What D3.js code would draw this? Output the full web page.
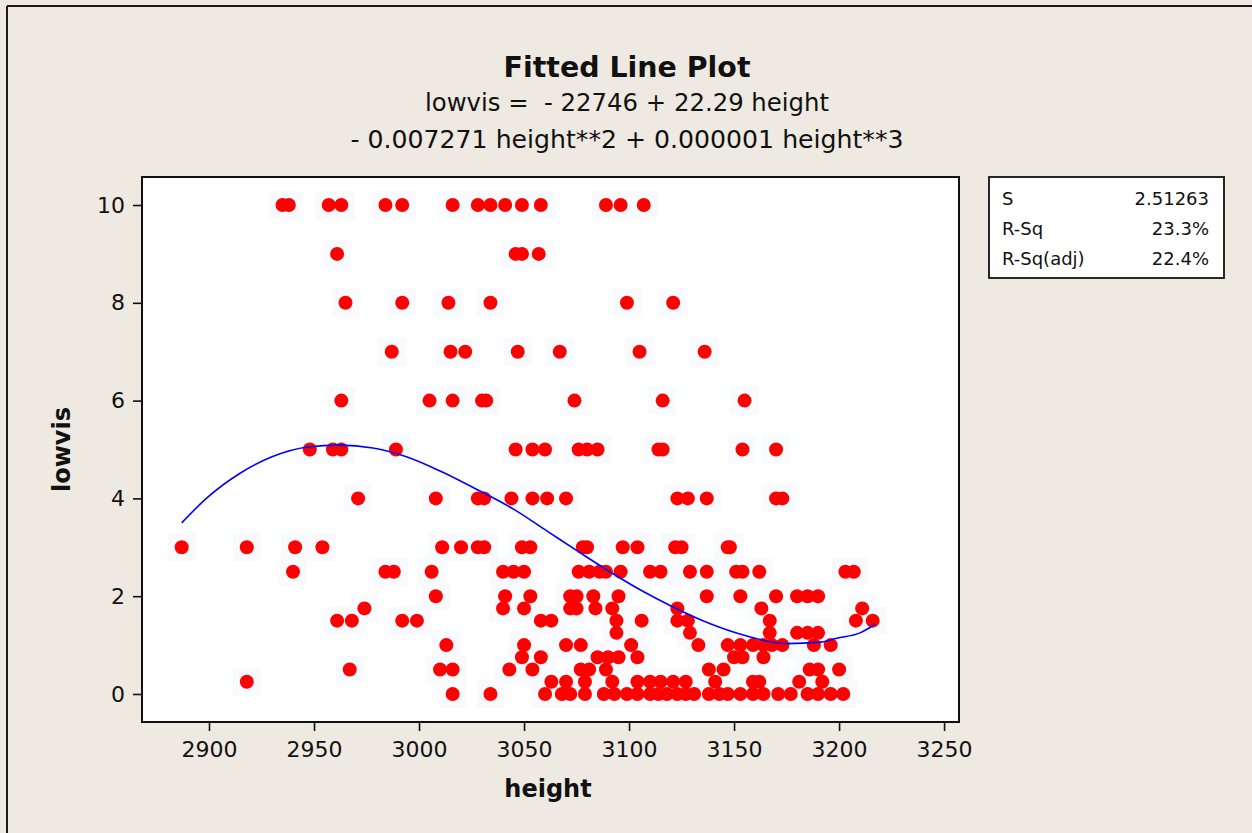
<!DOCTYPE html>
<html>
<head>
<meta charset="utf-8">
<script src="https://cdn.jsdelivr.net/npm/d3@7"></script>
<style>
  html, body { margin: 0; padding: 0; background: #eee9e1; }
  svg { display: block; }
  text { font-family: "DejaVu Sans", Verdana, sans-serif; fill: #111; }
</style>
</head>
<body>
<svg id="chart" width="1252" height="833"></svg>
<script>
// ---------- data ----------
const titleText = "Fitted Line Plot";
const equationLine1 = "lowvis =  - 22746 + 22.29 height";
const equationLine2 = "- 0.007271 height**2 + 0.000001 height**3";
const xLabel = "height";
const yLabel = "lowvis";
const xTicks = [2900, 2950, 3000, 3050, 3100, 3150, 3200, 3250];
const yTicks = [0, 2, 4, 6, 8, 10];
const statLabels = ["S", "R-Sq", "R-Sq(adj)"];
const statValues = ["2.51263", "23.3%", "22.4%"];

// observed points, grouped by lowvis value: heights at each level
const lowvisLevels = [10, 9, 8, 7, 6, 5, 4, 3, 2.5, 2, 1.75, 1.5, 1.25, 1, 0.75, 0.5, 0.25, 0];
const heightsAtLevel = [
  [2935, 2938, 2957, 2963, 2984, 2992, 3016, 3028, 3034, 3041, 3049, 3058, 3089, 3096, 3107],
  [2961, 3046, 3049, 3057],
  [2965, 2992, 3014, 3034, 3099, 3121],
  [2987, 3015, 3022, 3047, 3067, 3105, 3136],
  [2963, 3005, 3016, 3030, 3032, 3074, 3116, 3155],
  [2948, 2959, 2963, 2989, 3046, 3054, 3060, 3076, 3080, 3085, 3114, 3116, 3154, 3170],
  [2971, 3008, 3028, 3031, 3044, 3054, 3061, 3070, 3123, 3128, 3137, 3170, 3173],
  [2887, 2918, 2941, 2954, 3011, 3020, 3028, 3031, 3049, 3053, 3078, 3080, 3097, 3104, 3122, 3125, 3147, 3148],
  [2940, 2984, 2988, 3006, 3040, 3045, 3050, 3076, 3081, 3086, 3089, 3096, 3110, 3115, 3129, 3137, 3151, 3154, 3162, 3203, 3207],
  [3008, 3041, 3053, 3072, 3075, 3083, 3095, 3137, 3153, 3170, 3180, 3185, 3190],
  [2974, 3040, 3050, 3072, 3075, 3084, 3092, 3123, 3163, 3211],
  [2961, 2968, 2992, 2999, 3058, 3063, 3094, 3106, 3123, 3128, 3167, 3208, 3216],
  [3094, 3129, 3167, 3180, 3185, 3190],
  [3013, 3050, 3070, 3077, 3101, 3133, 3147, 3153, 3159, 3164, 3168, 3173, 3188, 3196],
  [3049, 3058, 3085, 3090, 3095, 3104, 3150, 3154, 3164],
  [2967, 3010, 3016, 3043, 3054, 3077, 3081, 3089, 3138, 3145, 3186, 3190, 3200],
  [2918, 3063, 3070, 3079, 3092, 3104, 3110, 3115, 3121, 3127, 3141, 3159, 3162, 3181, 3192],
  [3016, 3034, 3060, 3068, 3072, 3079, 3088, 3093, 3099, 3104, 3110, 3114, 3118, 3123, 3127, 3131, 3138, 3143, 3147, 3153, 3159, 3164, 3171, 3177, 3185, 3190, 3196, 3202]
];

// fitted curve
const fitHeight = [2887, 2899, 2915, 2930, 2947, 2962, 2978, 2994, 3010, 3029, 3045, 3061, 3077, 3092, 3107, 3120, 3139, 3154, 3175, 3191, 3199, 3210, 3217];
const fitLowvis = [3.50, 4.01, 4.52, 4.85, 5.05, 5.09, 5.03, 4.85, 4.56, 4.15, 3.78, 3.33, 2.88, 2.47, 2.09, 1.80, 1.43, 1.21, 1.03, 1.06, 1.14, 1.25, 1.42];

// ---------- drawing ----------
const svg = d3.select("#chart");
const W = 1252, H = 833;
const plot = { left: 142, right: 959, top: 177, bottom: 722 };

const x = d3.scaleLinear().domain([2868.1, 3257.1]).range([plot.left, plot.right]);
const y = d3.scaleLinear().domain([-0.573, 10.573]).range([plot.bottom, plot.top]);

// background and outer frame lines
svg.append("rect").attr("x", 0).attr("y", 0).attr("width", W).attr("height", H).attr("fill", "#eee9e1");
svg.append("line").attr("x1", 7).attr("x2", W).attr("y1", 6).attr("y2", 6).attr("stroke", "#1a1a1a").attr("stroke-width", 2);
svg.append("line").attr("x1", 7).attr("x2", 7).attr("y1", 6).attr("y2", H).attr("stroke", "#1a1a1a").attr("stroke-width", 2);

// plot area
svg.append("rect")
  .attr("x", plot.left).attr("y", plot.top)
  .attr("width", plot.right - plot.left).attr("height", plot.bottom - plot.top)
  .attr("fill", "#ffffff");

// points
const points = [];
lowvisLevels.forEach((lv, i) => heightsAtLevel[i].forEach(h => points.push({ h, lv })));

const g = svg.append("g");
// very faint halo squares (as in the reference image)
g.selectAll("rect.halo").data(points).enter().append("rect")
  .attr("class", "halo")
  .attr("x", d => x(d.h) - 14).attr("y", d => y(d.lv) - 14)
  .attr("width", 28).attr("height", 28)
  .attr("fill", "#f8fafd");

g.selectAll("circle.pt").data(points).enter().append("circle")
  .attr("class", "pt")
  .attr("cx", d => x(d.h)).attr("cy", d => y(d.lv))
  .attr("r", 7)
  .attr("fill", "#ff0000");

// fitted line
const fit = fitHeight.map((h, i) => [h, fitLowvis[i]]);
svg.append("path")
  .datum(fit)
  .attr("fill", "none")
  .attr("stroke", "#0000ff")
  .attr("stroke-width", 1.6)
  .attr("d", d3.line().x(d => x(d[0])).y(d => y(d[1])).curve(d3.curveMonotoneX));

// frame
svg.append("rect")
  .attr("x", plot.left).attr("y", plot.top)
  .attr("width", plot.right - plot.left).attr("height", plot.bottom - plot.top)
  .attr("fill", "none").attr("stroke", "#111").attr("stroke-width", 2);

// axes
const xAxis = d3.axisBottom(x).tickValues(xTicks).tickSize(9).tickPadding(6).tickFormat(d3.format("d"));
const yAxis = d3.axisLeft(y).tickValues(yTicks).tickSize(9).tickPadding(8).tickFormat(d3.format("d"));

const gx = svg.append("g").attr("transform", `translate(0,${plot.bottom})`).call(xAxis);
const gy = svg.append("g").attr("transform", `translate(${plot.left},0)`).call(yAxis);
[gx, gy].forEach(a => {
  a.select(".domain").remove();
  a.selectAll(".tick line").attr("stroke", "#111").attr("stroke-width", 1.6);
  a.selectAll(".tick text").attr("font-size", 22).attr("fill", "#111")
    .style("font-family", "'DejaVu Sans', Verdana, sans-serif");
});
gx.selectAll(".tick text").attr("dy", "0.9em");

// axis titles
svg.append("text").attr("x", 548).attr("y", 797)
  .attr("text-anchor", "middle").attr("font-size", 24).attr("font-weight", "bold").text(xLabel);
svg.append("text").attr("transform", `translate(70,${(plot.top + plot.bottom) / 2}) rotate(-90)`)
  .attr("text-anchor", "middle").attr("font-size", 24).attr("font-weight", "bold").text(yLabel);

// titles
const cx = 627;
svg.append("text").attr("x", cx).attr("y", 77).attr("text-anchor", "middle")
  .attr("font-size", 29).attr("font-weight", "bold")
  .attr("textLength", 247).attr("lengthAdjust", "spacingAndGlyphs").text(titleText);
svg.append("text").attr("x", cx).attr("y", 111).attr("text-anchor", "middle")
  .attr("font-size", 24.5).style("white-space", "pre")
  .attr("textLength", 404).attr("lengthAdjust", "spacingAndGlyphs").text(equationLine1);
svg.append("text").attr("x", cx).attr("y", 148).attr("text-anchor", "middle")
  .attr("font-size", 25)
  .attr("textLength", 553).attr("lengthAdjust", "spacingAndGlyphs").text(equationLine2);

// stats box
const box = { x: 989, y: 177, w: 235, h: 101 };
svg.append("rect").attr("x", box.x).attr("y", box.y).attr("width", box.w).attr("height", box.h)
  .attr("fill", "#ffffff").attr("stroke", "#111").attr("stroke-width", 1.8);
const rowY = d3.scalePoint().domain(statLabels).range([205, 265]);
svg.selectAll("text.slab").data(statLabels).enter().append("text")
  .attr("class", "slab").attr("x", 1002).attr("y", d => rowY(d))
  .attr("font-size", 18).text(d => d);
svg.selectAll("text.sval").data(statValues).enter().append("text")
  .attr("class", "sval").attr("x", 1209).attr("y", (d, i) => rowY(statLabels[i]))
  .attr("text-anchor", "end").attr("font-size", 18).text(d => d);
</script>
</body>
</html>
